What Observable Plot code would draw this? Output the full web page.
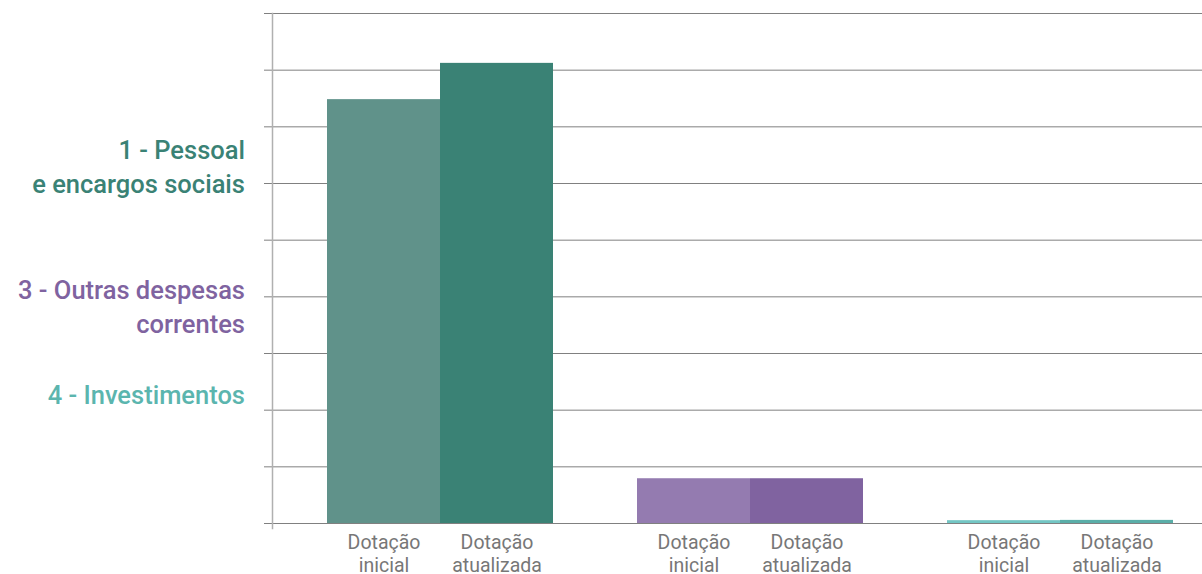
<!DOCTYPE html>
<html>
<head>
<meta charset="utf-8">
<script src="https://cdn.jsdelivr.net/npm/d3@7"></script>
<script src="https://cdn.jsdelivr.net/npm/@observablehq/plot@0.6"></script>
<style>
  html, body { margin: 0; padding: 0; background: #fff; }
  body { width: 1202px; height: 574px; overflow: hidden; font-family: Roboto, "Noto Sans", sans-serif; }
  #wrap { display: flex; flex-direction: row; }
  #legend { width: 245px; flex: none; display: flex; flex-direction: column; align-items: flex-end; text-align: right; font-size: 25.5px; font-weight: 500; line-height: 34px; }
  #legend div { white-space: nowrap; }
  #chart { flex: none; }
</style>
</head>
<body>
<div id="wrap">
  <div id="legend"></div>
  <div id="chart"></div>
</div>
<script>
// ---- data ----
const groups = ["1 - Pessoal e encargos sociais", "3 - Outras despesas correntes", "4 - Investimentos"];
const groupLines = [["1 - Pessoal", "e encargos sociais"], ["3 - Outras despesas", "correntes"], ["4 - Investimentos"]];
const series = ["Dotação inicial", "Dotação atualizada"];
const dotacaoInicial = [7.48, 0.79, 0.05];
const dotacaoAtualizada = [8.12, 0.79, 0.055];
const yTicks = [0, 1, 2, 3, 4, 5, 6, 7, 8, 9];

// ---- palette ----
const groupColors = ["#3a8275", "#7f63a0", "#5bb5ae"];
const barColors = {
  "1 - Pessoal e encargos sociais|Dotação inicial": "#60928a",
  "1 - Pessoal e encargos sociais|Dotação atualizada": "#3a8275",
  "3 - Outras despesas correntes|Dotação inicial": "#947bb0",
  "3 - Outras despesas correntes|Dotação atualizada": "#8063a0",
  "4 - Investimentos|Dotação inicial": "#73c6c4",
  "4 - Investimentos|Dotação atualizada": "#5aaea8"
};

const rows = [];
groups.forEach((g, i) => {
  rows.push({group: g, series: series[0], value: dotacaoInicial[i]});
  rows.push({group: g, series: series[1], value: dotacaoAtualizada[i]});
});

// ---- legend ----
const legend = document.getElementById("legend");
const margins = [133, 72, 37];
groupLines.forEach((lines, i) => {
  const block = document.createElement("div");
  block.style.color = groupColors[i];
  block.style.marginTop = margins[i] + "px";
  lines.forEach(l => {
    const d = document.createElement("div");
    d.textContent = l;
    block.appendChild(d);
  });
  legend.appendChild(block);
});

// ---- chart ----
const chart = Plot.plot({
  width: 957,
  height: 574,
  marginLeft: 26,
  marginRight: 0,
  marginTop: 13,
  marginBottom: 51,
  style: {fontFamily: "Roboto, sans-serif", background: "transparent", overflow: "visible"},
  fx: {domain: groups, padding: 0, axis: null, label: null},
  x: {domain: series, paddingInner: 0, paddingOuter: 0.36, align: 0.66, axis: null, label: null},
  y: {domain: [0, 9], axis: null, label: null},
  color: {type: "ordinal", domain: Object.keys(barColors), range: Object.values(barColors)},
  marks: [
    Plot.gridY(yTicks, {stroke: "#808080", strokeOpacity: 1, strokeWidth: 1}),
    Plot.axisY(yTicks, {anchor: "left", tickSize: 8, tickFormat: () => "", label: null, stroke: "#808080", strokeOpacity: 1}),
    Plot.barY(rows, {fx: "group", x: "series", y: "value", fill: d => d.group + "|" + d.series, inset: 0}),
    Plot.frame({anchor: "left", facetAnchor: "left", stroke: "#b0b0b0", strokeWidth: 1.5, insetBottom: -5}),
    Plot.axisX({anchor: "bottom", tickSize: 0, tickPadding: 9, fontSize: 19.5, lineHeight: 1.18, fill: "#777777",
      label: null, tickFormat: d => d.replace(" ", "\n")})
  ]
});
document.getElementById("chart").appendChild(chart);
</script>
</body>
</html>
